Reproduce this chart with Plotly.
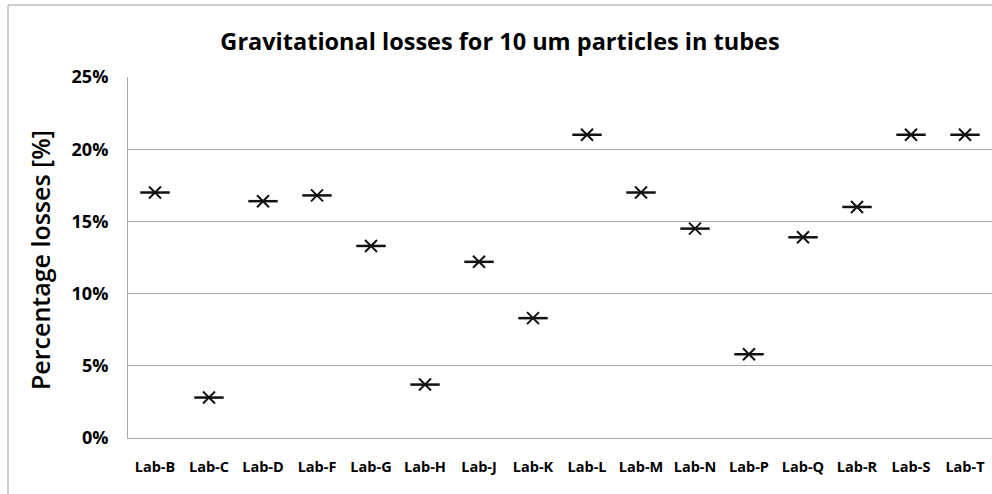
import plotly.graph_objects as go

# Lab results: gravitational losses of 10 um particles in sampling tubes
labs = ["Lab-B", "Lab-C", "Lab-D", "Lab-F", "Lab-G", "Lab-H", "Lab-J", "Lab-K",
        "Lab-L", "Lab-M", "Lab-N", "Lab-P", "Lab-Q", "Lab-R", "Lab-S", "Lab-T"]
losses = [0.170, 0.028, 0.164, 0.168, 0.133, 0.037, 0.122, 0.083,
          0.210, 0.170, 0.145, 0.058, 0.139, 0.160, 0.210, 0.210]
y_ticks = [0.0, 0.05, 0.10, 0.15, 0.20, 0.25]

FONT = "Open Sans"
INK = "#111111"
GRID = "#A8A8A8"

W, H = 992, 494
ML, MR, MT, MB = 128, 0, 77, 56
PW, PH = W - ML - MR, H - MT - MB

fig = go.Figure()

# Star marker = diagonal cross plus a wider horizontal bar
fig.add_trace(go.Scatter(
    x=labs, y=losses, mode="markers", showlegend=False, hoverinfo="skip",
    marker=dict(symbol="x-thin-open", size=12, color=INK,
                line=dict(color=INK, width=2)),
))
fig.add_trace(go.Scatter(
    x=labs, y=losses, mode="markers", showlegend=False,
    marker=dict(symbol="line-ew-open", size=21, color=INK,
                line=dict(color=INK, width=2.5)),
))

fig.update_layout(
    width=W, height=H,
    margin=dict(l=ML, r=MR, t=MT, b=MB),
    paper_bgcolor="white", plot_bgcolor="white",
    font=dict(family=FONT, color="black"),
    title=dict(
        text="Gravitational losses for 10 um particles in tubes",
        x=500 / W, xanchor="center", xref="container",
        y=1 - 42 / H, yanchor="middle", yref="container",
        font=dict(family=FONT, size=23.5, color="black", weight="bold"),
    ),
    xaxis=dict(
        type="category", categoryorder="array", categoryarray=labs,
        range=[-0.5, len(labs) - 0.5],
        showgrid=False, showline=True, linecolor=GRID, linewidth=1,
        ticks="", tickfont=dict(family=FONT, size=14.5, color="black", weight="bold"),
        ticklabelstandoff=16,
        fixedrange=True,
    ),
    yaxis=dict(
        range=[0, 0.25], tickvals=y_ticks, tickformat=".0%",
        showgrid=True, gridcolor=GRID, gridwidth=1,
        showline=True, linecolor=GRID, linewidth=1, zeroline=False,
        ticks="", tickfont=dict(family=FONT, size=18, color="black", weight="bold"),
        ticklabelstandoff=15,
        fixedrange=True,
    ),
    annotations=[dict(
        text="Percentage losses [%]", textangle=-90,
        xref="paper", yref="paper",
        x=(40 - ML) / PW, y=(MT + PH - 260) / PH,
        xanchor="center", yanchor="middle", showarrow=False,
        font=dict(family=FONT, size=25, color="black", weight=600),
    )],
    shapes=[dict(
        type="rect", xref="paper", yref="paper",
        x0=(8 - ML) / PW, x1=(W + 20 - ML) / PW,
        y0=-(MB + 20) / PH, y1=1 + (MT - 5) / PH,
        line=dict(color="#A0A0A0", width=1), fillcolor="rgba(0,0,0,0)",
        layer="below",
    )],
)

fig.write_html("out.html")
